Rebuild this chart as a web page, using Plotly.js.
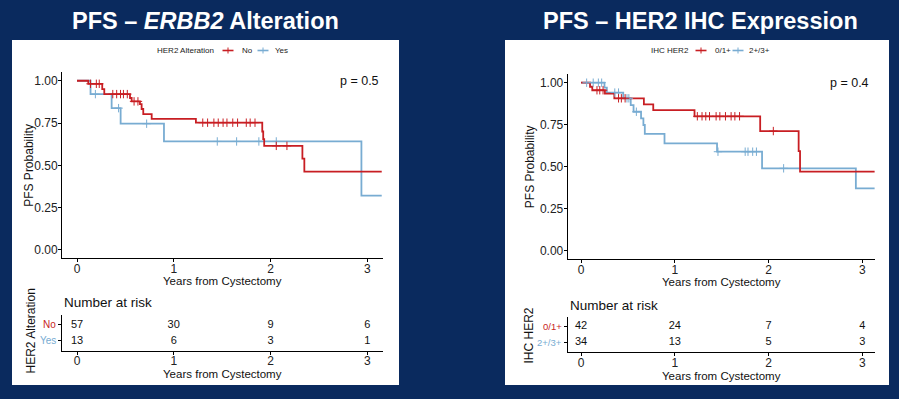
<!DOCTYPE html>
<html><head><meta charset="utf-8">
<script src="https://cdn.plot.ly/plotly-3.0.1.min.js"></script>
<style>html,body{margin:0;padding:0;background:#0a2a5e;}#chart{width:899px;height:399px;}</style>
</head><body><div id="chart"></div>
<script>
// ---------- shared ----------
const years = [0, 1, 2, 3];
const RED = '#c81e23';
const BLUE = '#78acd2';
const xTitleText = 'Years from Cystectomy';
const yTitleText = 'PFS Probability';

// ---------- Left panel: ERBB2 alteration ----------
const altTitle = '<b>PFS – <i>ERBB2</i> Alteration</b>';
const altLegendTitle = 'HER2 Alteration';
const altLabels = ['No', 'Yes'];
const altNoTime = [0, 0.117, 0.261, 0.282, 0.548, 0.565, 0.651, 0.668, 0.685, 0.772, 1.229, 1.915, 1.925, 1.935, 2.33, 2.35, 3.15];
const altNoSurv = [1, 0.982, 0.951, 0.921, 0.898, 0.878, 0.862, 0.833, 0.803, 0.775, 0.752, 0.70, 0.655, 0.615, 0.54, 0.463, 0.463];
const altNoCensor = [0.14, 0.20, 0.23, 0.37, 0.41, 0.45, 0.48, 0.52, 0.59, 0.63, 1.30, 1.35, 1.415, 1.46, 1.51, 1.55, 1.61, 1.66, 1.75, 1.79, 1.84, 2.06, 2.17];
const altYesTime = [0, 0.14, 0.358, 0.451, 0.899, 2.94, 3.15];
const altYesSurv = [1, 0.921, 0.838, 0.746, 0.641, 0.321, 0.321];
const altYesCensor = [0.19, 0.43, 0.72, 1.45, 1.65, 1.88, 2.06];
const altRiskNo = [57, 30, 9, 6];
const altRiskYes = [13, 6, 3, 1];
const altP = 'p = 0.5';

// ---------- Right panel: HER2 IHC ----------
const ihcTitle = '<b>PFS – HER2 IHC Expression</b>';
const ihcLegendTitle = 'IHC HER2';
const ihcLabels = ['0/1+', '2+/3+'];
const ihcLowTime = [0, 0.096, 0.12, 0.255, 0.355, 0.67, 0.77, 1.21, 1.91, 2.32, 2.335, 3.13];
const ihcLowSurv = [1, 0.976, 0.955, 0.935, 0.907, 0.871, 0.837, 0.80, 0.712, 0.593, 0.47, 0.47];
const ihcLowCensor = [0.17, 0.20, 0.235, 0.40, 0.43, 0.47, 1.24, 1.29, 1.33, 1.37, 1.44, 1.48, 1.54, 1.60, 1.64, 1.69, 2.05];
const ihcHighTime = [0, 0.25, 0.275, 0.45, 0.53, 0.56, 0.64, 0.665, 0.68, 0.89, 1.45, 1.93, 2.93, 3.13];
const ihcHighSurv = [1, 0.971, 0.941, 0.907, 0.867, 0.827, 0.788, 0.748, 0.695, 0.639, 0.589, 0.49, 0.371, 0.371];
const ihcHighCensor = [0.06, 0.13, 0.185, 0.22, 0.36, 0.40, 0.49, 0.51, 0.59, 1.46, 1.75, 1.78, 1.83, 1.87, 2.16];
const ihcRiskLow = [42, 24, 7, 4];
const ihcRiskHigh = [34, 13, 5, 3];
const ihcP = 'p = 0.4';

// ---------- helpers ----------
const W = 899, H = 399;
const px = v => v / W, py = v => 1 - v / H;
function stepAt(T, S, t) { let s = S[0]; for (let i = 0; i < T.length; i++) { if (T[i] <= t) s = S[i]; } return s; }
function curve(T, S, color, xa, ya) {
  return { x: T, y: S, xaxis: xa, yaxis: ya, type: 'scatter', mode: 'lines', line: { shape: 'hv', color: color, width: 1.8 }, showlegend: false, hoverinfo: 'skip' };
}
function censor(T, S, C, color, xa, ya) {
  return { x: C, y: C.map(t => stepAt(T, S, t)), xaxis: xa, yaxis: ya, type: 'scatter', mode: 'markers',
    marker: { symbol: 'cross-thin-open', size: 6, color: color, line: { color: color, width: 1 } }, showlegend: false, hoverinfo: 'skip' };
}
function riskRow(vals, row, xa, ya) {
  return { x: years, y: years.map(() => row), text: vals.map(String), xaxis: xa, yaxis: ya, type: 'scatter', mode: 'text',
    textposition: 'middle center', textfont: { size: 11, color: '#111' }, cliponaxis: false, showlegend: false, hoverinfo: 'skip' };
}

const data = [
  curve(altYesTime, altYesSurv, BLUE, 'x', 'y'),
  curve(altNoTime, altNoSurv, RED, 'x', 'y'),
  censor(altYesTime, altYesSurv, altYesCensor, BLUE, 'x', 'y'),
  censor(altNoTime, altNoSurv, altNoCensor, RED, 'x', 'y'),
  curve(ihcHighTime, ihcHighSurv, BLUE, 'x2', 'y2'),
  curve(ihcLowTime, ihcLowSurv, RED, 'x2', 'y2'),
  censor(ihcHighTime, ihcHighSurv, ihcHighCensor, BLUE, 'x2', 'y2'),
  censor(ihcLowTime, ihcLowSurv, ihcLowCensor, RED, 'x2', 'y2'),
  riskRow(altRiskNo, 2, 'x3', 'y3'),
  riskRow(altRiskYes, 1, 'x3', 'y3'),
  riskRow(ihcRiskLow, 2, 'x4', 'y4'),
  riskRow(ihcRiskHigh, 1, 'x4', 'y4')
];

const FONT = 'Liberation Sans, Arial, sans-serif';
function axisBase(extra) {
  return Object.assign({ showline: true, linecolor: '#000', linewidth: 1, ticks: 'outside', ticklen: 3, tickcolor: '#000', tickwidth: 1,
    showgrid: false, zeroline: false, tickfont: { size: 12, color: '#222', family: FONT }, fixedrange: true }, extra);
}

const annotations = [];
function ann(o) { annotations.push(Object.assign({ showarrow: false, xanchor: 'center', yanchor: 'middle' }, o)); }
// panel titles
ann({ text: altTitle, xref: 'paper', yref: 'paper', x: px(205), y: py(21), font: { size: 23.5, color: '#fff', family: FONT } });
ann({ text: ihcTitle, xref: 'paper', yref: 'paper', x: px(700), y: py(21), font: { size: 23.5, color: '#fff', family: FONT } });
// axis titles
ann({ text: xTitleText, xref: 'x domain', yref: 'paper', x: 0.5, y: py(280.5), font: { size: 11.5, color: '#111' } });
ann({ text: xTitleText, xref: 'x2 domain', yref: 'paper', x: 0.5, y: py(282), font: { size: 11.5, color: '#111' } });
ann({ text: xTitleText, xref: 'x3 domain', yref: 'paper', x: 0.5, y: py(373.5), font: { size: 11.5, color: '#111' } });
ann({ text: xTitleText, xref: 'x4 domain', yref: 'paper', x: 0.5, y: py(376), font: { size: 11.5, color: '#111' } });
ann({ text: yTitleText, xref: 'paper', yref: 'y domain', x: px(29.5), y: 0.5, textangle: -90, font: { size: 12, color: '#111' } });
ann({ text: yTitleText, xref: 'paper', yref: 'y2 domain', x: px(529.5), y: 0.5, textangle: -90, font: { size: 12, color: '#111' } });
ann({ text: altLegendTitle, xref: 'paper', yref: 'paper', x: px(30.5), y: py(331), textangle: -90, font: { size: 12, color: '#111' } });
ann({ text: ihcLegendTitle, xref: 'paper', yref: 'paper', x: px(528), y: py(335.5), textangle: -90, font: { size: 12, color: '#111' } });
// p-values
ann({ text: altP, xref: 'x', yref: 'y', x: 2.70, y: 1.0, xanchor: 'left', font: { size: 12.5, color: '#111' } });
ann({ text: ihcP, xref: 'x2', yref: 'y2', x: 2.637, y: 1.0, xanchor: 'left', font: { size: 12.5, color: '#111' } });
// risk table headers
ann({ text: 'Number at risk', xref: 'x3 domain', yref: 'paper', x: 0, y: py(302.7), xanchor: 'left', font: { size: 13.5, color: '#111' } });
ann({ text: 'Number at risk', xref: 'x4 domain', yref: 'paper', x: 0, y: py(305), xanchor: 'left', font: { size: 13.5, color: '#111' } });
// risk table row labels (coloured by group)
function rowLabels(labels, xa, ya, size) {
  [RED, BLUE].forEach((c, i) => {
    ann({ text: labels[i], xref: xa + ' domain', yref: ya, x: 0, xshift: -4, y: 2 - i, xanchor: 'right', font: { size: size, color: c } });
  });
}
rowLabels(altLabels, 'x3', 'y3', 10);
rowLabels(ihcLabels, 'x4', 'y4', 9.5);

// panels + legends (title + keys)
const shapes = [
  { type: 'rect', xref: 'paper', yref: 'paper', x0: px(12), x1: px(399), y0: py(385), y1: py(40), fillcolor: '#fff', line: { width: 0 }, layer: 'below' },
  { type: 'rect', xref: 'paper', yref: 'paper', x0: px(505), x1: px(889), y0: py(385), y1: py(40), fillcolor: '#fff', line: { width: 0 }, layer: 'below' }
];
function legendBlock(title, labels, titleX, keyX, labelX, yc) {
  ann({ text: title, xref: 'paper', yref: 'paper', x: px(titleX), y: py(yc), xanchor: 'left', font: { size: 8, color: '#222' } });
  [RED, BLUE].forEach((c, i) => {
    shapes.push({ type: 'line', xref: 'paper', yref: 'paper', x0: px(keyX[i]), x1: px(keyX[i] + 11), y0: py(yc), y1: py(yc), line: { color: c, width: 1.6 } });
    shapes.push({ type: 'line', xref: 'paper', yref: 'paper', x0: px(keyX[i] + 5.5), x1: px(keyX[i] + 5.5), y0: py(yc - 3), y1: py(yc + 3), line: { color: c, width: 1 } });
    ann({ text: labels[i], xref: 'paper', yref: 'paper', x: px(labelX[i]), y: py(yc), xanchor: 'left', font: { size: 8, color: '#222' } });
  });
}
legendBlock(altLegendTitle, altLabels, 154.5, [222.5, 257.5], [239.5, 273], 50.5);
legendBlock(ihcLegendTitle, ihcLabels, 648.5, [695.5, 732.5], [712.5, 747], 50.5);

const noLabels = { tickvals: [1, 2], ticktext: ['', ''] };
const layout = {
  width: W, height: H, margin: { l: 0, r: 0, t: 0, b: 0 },
  paper_bgcolor: '#0a2a5e', plot_bgcolor: 'rgba(0,0,0,0)',
  font: { family: FONT, color: '#111' },
  showlegend: false,
  xaxis: axisBase({ domain: [px(62), px(382.7)], range: [-0.155, 3.16], anchor: 'y', tickvals: years, ticklabelstandoff: -4 }),
  yaxis: axisBase({ domain: [py(258.3), py(72.3)], range: [-0.05, 1.05], anchor: 'x', tickvals: [0, 0.25, 0.5, 0.75, 1], tickformat: '.2f', ticklabelstandoff: -2 }),
  xaxis2: axisBase({ domain: [px(567.7), px(875)], range: [-0.142, 3.134], anchor: 'y2', tickvals: years, ticklabelstandoff: -3 }),
  yaxis2: axisBase({ domain: [py(259), py(74.3)], range: [-0.05, 1.05], anchor: 'x2', tickvals: [0, 0.25, 0.5, 0.75, 1], tickformat: '.2f', ticklabelstandoff: -2 }),
  xaxis3: axisBase({ domain: [px(62), px(382.7)], range: [-0.155, 3.16], anchor: 'y3', tickvals: years, ticklabelstandoff: -4 }),
  yaxis3: axisBase(Object.assign({ domain: [py(350.7), py(315)], range: [0.4, 2.6], anchor: 'x3' }, noLabels)),
  xaxis4: axisBase({ domain: [px(567.7), px(875)], range: [-0.142, 3.134], anchor: 'y4', tickvals: years, ticklabelstandoff: -4 }),
  yaxis4: axisBase(Object.assign({ domain: [py(352.3), py(316.7)], range: [0.4, 2.6], anchor: 'x4' }, noLabels)),
  shapes: shapes,
  annotations: annotations
};

Plotly.newPlot('chart', data, layout, { staticPlot: true, displayModeBar: false });
</script>
</body></html>
